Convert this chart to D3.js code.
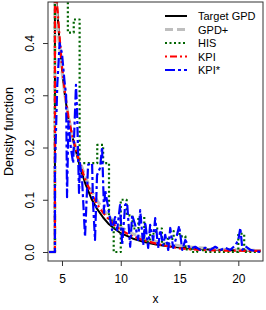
<!DOCTYPE html>
<html>
<head>
<meta charset="utf-8">
<script src="https://d3js.org/d3.v7.min.js"></script>
<style>
  body { margin: 0; background: #fff; }
  text { font-family: "Liberation Sans", Arial, sans-serif; fill: #000; }
</style>
</head>
<body>
<div id="chart"></div>
<script>
// smooth densities share one x grid (threshold jump at 4.4)
var gridX = [3.9, 4.4, 4.4, 4.6, 4.8, 5.0, 5.25, 5.5, 5.75, 6.0, 6.5, 7.0, 7.5, 8.0, 8.5, 9.0, 9.5, 10, 11, 12, 13, 14, 15, 16, 17, 18, 19, 20, 21, 21.9];
var targetY = [0, 0, 0.53, 0.46, 0.40, 0.35, 0.30, 0.26, 0.235, 0.21, 0.165, 0.13, 0.102, 0.082, 0.066, 0.053, 0.044, 0.036, 0.026, 0.019, 0.0145, 0.011, 0.0085, 0.0068, 0.0055, 0.0045, 0.0037, 0.0031, 0.0026, 0.0022];
var gpdPlusY = [0, 0, 0.50, 0.44, 0.39, 0.345, 0.30, 0.265, 0.238, 0.215, 0.175, 0.143, 0.118, 0.098, 0.082, 0.068, 0.057, 0.048, 0.035, 0.026, 0.020, 0.0155, 0.012, 0.0095, 0.0076, 0.0062, 0.005, 0.0042, 0.0035, 0.003];
var kpiY = [0, 0, 0.55, 0.47, 0.41, 0.355, 0.305, 0.265, 0.235, 0.212, 0.17, 0.138, 0.112, 0.091, 0.075, 0.062, 0.051, 0.042, 0.030, 0.022, 0.016, 0.011, 0.007, 0.005, 0.004, 0.003, 0.0028, 0.0025, 0.0022, 0.002];

// histogram estimate, step after each x
var hisX = [3.9, 4.4, 5.0, 5.5, 6.0, 6.5, 7.0, 7.5, 8.0, 8.5, 9.0, 9.4, 10.0, 10.5, 11.0, 11.5, 12.0, 12.5, 13.0, 13.5, 14.0, 14.5, 15.0, 15.5, 16.0, 16.5, 17.0, 19.5, 20.0, 20.5, 21.9];
var hisY = [0, 0.60, 0.60, 0.42, 0.445, 0.17, 0.17, 0.17, 0.205, 0.17, 0.06, 0, 0.10, 0.07, 0.045, 0.067, 0.02, 0.035, 0.045, 0.015, 0.025, 0.04, 0.03, 0.005, 0, 0.005, 0, 0, 0.035, 0, 0];

// KPI* (noisy)
var kpiStarX = [3.9, 4.40, 4.40, 4.60, 4.80, 5.00, 5.20, 5.35, 5.43, 5.55, 5.75, 5.95, 6.19, 6.28, 6.45, 6.53, 6.71, 6.96, 7.22, 7.56, 7.64, 7.81, 7.98, 8.24, 8.41, 8.58, 8.67, 8.92, 9.26, 9.52, 9.69, 9.94, 10.12, 10.37, 10.54, 10.80, 10.97, 11.22, 11.48, 11.65, 11.91, 12.08, 12.33, 12.50, 12.76, 12.93, 13.18, 13.35, 13.61, 13.78, 14.04, 14.21, 14.46, 14.72, 14.97, 15.23, 15.49, 15.91, 16.34, 16.76, 17.19, 17.62, 18.04, 18.47, 18.90, 19.32, 19.75, 20.00, 20.17, 20.35, 20.60, 21.03, 21.45, 21.9];
var kpiStarY = [0, 0, 0.16, 0.32, 0.40, 0.38, 0.33, 0.30, 0.105, 0.25, 0.20, 0.17, 0.320, 0.272, 0.113, 0.170, 0.138, 0.029, 0.167, 0.170, 0.094, 0.023, 0.147, 0.161, 0.201, 0.075, 0.119, 0.086, 0.042, 0.067, 0.042, 0.090, 0.013, 0.090, 0.094, 0.010, 0.071, 0.052, 0.023, 0.080, 0.013, 0.057, 0.008, 0.052, 0.023, 0.065, 0.008, 0.042, 0.013, 0.033, 0.004, 0.046, 0.008, 0.027, 0.050, 0.004, 0.023, 0.006, 0.010, 0.004, 0.008, 0.004, 0.010, 0.004, 0.008, 0.004, 0.013, 0.023, 0.046, 0.004, 0.011, 0.004, 0.002, 0];

var xTicks = [5, 10, 15, 20];
var yTicks = [0, 0.1, 0.2, 0.3, 0.4];

var series = [
  {name: "Target GPD", xs: gridX, ys: targetY, color: "#000000", width: 2, dash: null, step: false},
  {name: "GPD+", xs: gridX, ys: gpdPlusY, color: "#bebebe", width: 3, dash: "8,4", step: false},
  {name: "HIS", xs: hisX, ys: hisY, color: "#006400", width: 2.2, dash: "2,2.5", step: true},
  {name: "KPI", xs: gridX, ys: kpiY, color: "#ff0000", width: 2.2, dash: "2,3,7,3", step: false},
  {name: "KPI*", xs: kpiStarX, ys: kpiStarY, color: "#0000ff", width: 2.2, dash: "10,3,3,3", step: false}
];

var W = 266, H = 310;
var padL = 48, padR = 263, padT = 2, padB = 261;

var svg = d3.select("#chart").append("svg")
  .attr("width", W)
  .attr("height", H);

svg.append("rect").attr("width", W).attr("height", H).attr("fill", "#fff");

var x = d3.scaleLinear().domain([3.81, 22.1]).range([padL, padR]);
var y = d3.scaleLinear().domain([-0.0172, 0.4785]).range([padB, padT]);

svg.append("clipPath").attr("id", "clip")
  .append("rect")
  .attr("x", padL).attr("y", padT)
  .attr("width", padR - padL).attr("height", padB - padT);

var plot = svg.append("g").attr("clip-path", "url(#clip)");

series.forEach(function(s) {
  var pts = s.xs.map(function(v, i) { return [v, s.ys[i]]; });
  var line = d3.line()
    .x(function(d) { return x(d[0]); })
    .y(function(d) { return y(d[1]); })
    .curve(s.step ? d3.curveStepAfter : d3.curveLinear);
  plot.append("path")
    .attr("d", line(pts))
    .attr("fill", "none")
    .attr("stroke", s.color)
    .attr("stroke-width", s.width)
    .attr("stroke-dasharray", s.dash)
    .attr("stroke-linejoin", "round");
});

// frame
svg.append("rect")
  .attr("x", padL).attr("y", padT)
  .attr("width", padR - padL).attr("height", padB - padT)
  .attr("fill", "none")
  .attr("stroke", "#333")
  .attr("stroke-width", 1);

// axes
var xAxis = svg.append("g")
  .attr("transform", "translate(0," + padB + ")")
  .call(d3.axisBottom(x).tickValues(xTicks).tickSize(5).tickSizeOuter(0));
xAxis.select(".domain").remove();
xAxis.selectAll("line").attr("stroke", "#333");
xAxis.selectAll("text")
  .attr("y", 13)
  .style("font-size", "12px")
  .style("font-family", "Liberation Sans, Arial, sans-serif")
  .attr("fill", "#000");

var yAxis = svg.append("g")
  .attr("transform", "translate(" + padL + ",0)")
  .call(d3.axisLeft(y).tickValues(yTicks).tickSize(5).tickSizeOuter(0).tickFormat(d3.format(".1f")));
yAxis.select(".domain").remove();
yAxis.selectAll("line").attr("stroke", "#333");
yAxis.selectAll("text")
  .attr("x", 0)
  .attr("dy", 0)
  .attr("text-anchor", "middle")
  .attr("transform", "translate(-14,0) rotate(-90)")
  .style("font-size", "12px")
  .style("font-family", "Liberation Sans, Arial, sans-serif")
  .attr("fill", "#000");

// axis titles
svg.append("text")
  .attr("x", (padL + padR) / 2)
  .attr("y", 303)
  .attr("text-anchor", "middle")
  .style("font-size", "12px")
  .text("x");

svg.append("text")
  .attr("transform", "translate(12.5," + (padT + padB) / 2 + ") rotate(-90)")
  .attr("text-anchor", "middle")
  .style("font-size", "12.5px")
  .text("Density function");

// legend
var legend = svg.append("g");
series.forEach(function(s, i) {
  var ly = 16 + i * 13.5;
  legend.append("line")
    .attr("x1", 165).attr("x2", 187)
    .attr("y1", ly).attr("y2", ly)
    .attr("stroke", s.color)
    .attr("stroke-width", s.width)
    .attr("stroke-dasharray", s.dash);
  legend.append("text")
    .attr("x", 198)
    .attr("y", ly + 4)
    .style("font-size", "11px")
    .text(s.name);
});
</script>
</body>
</html>
